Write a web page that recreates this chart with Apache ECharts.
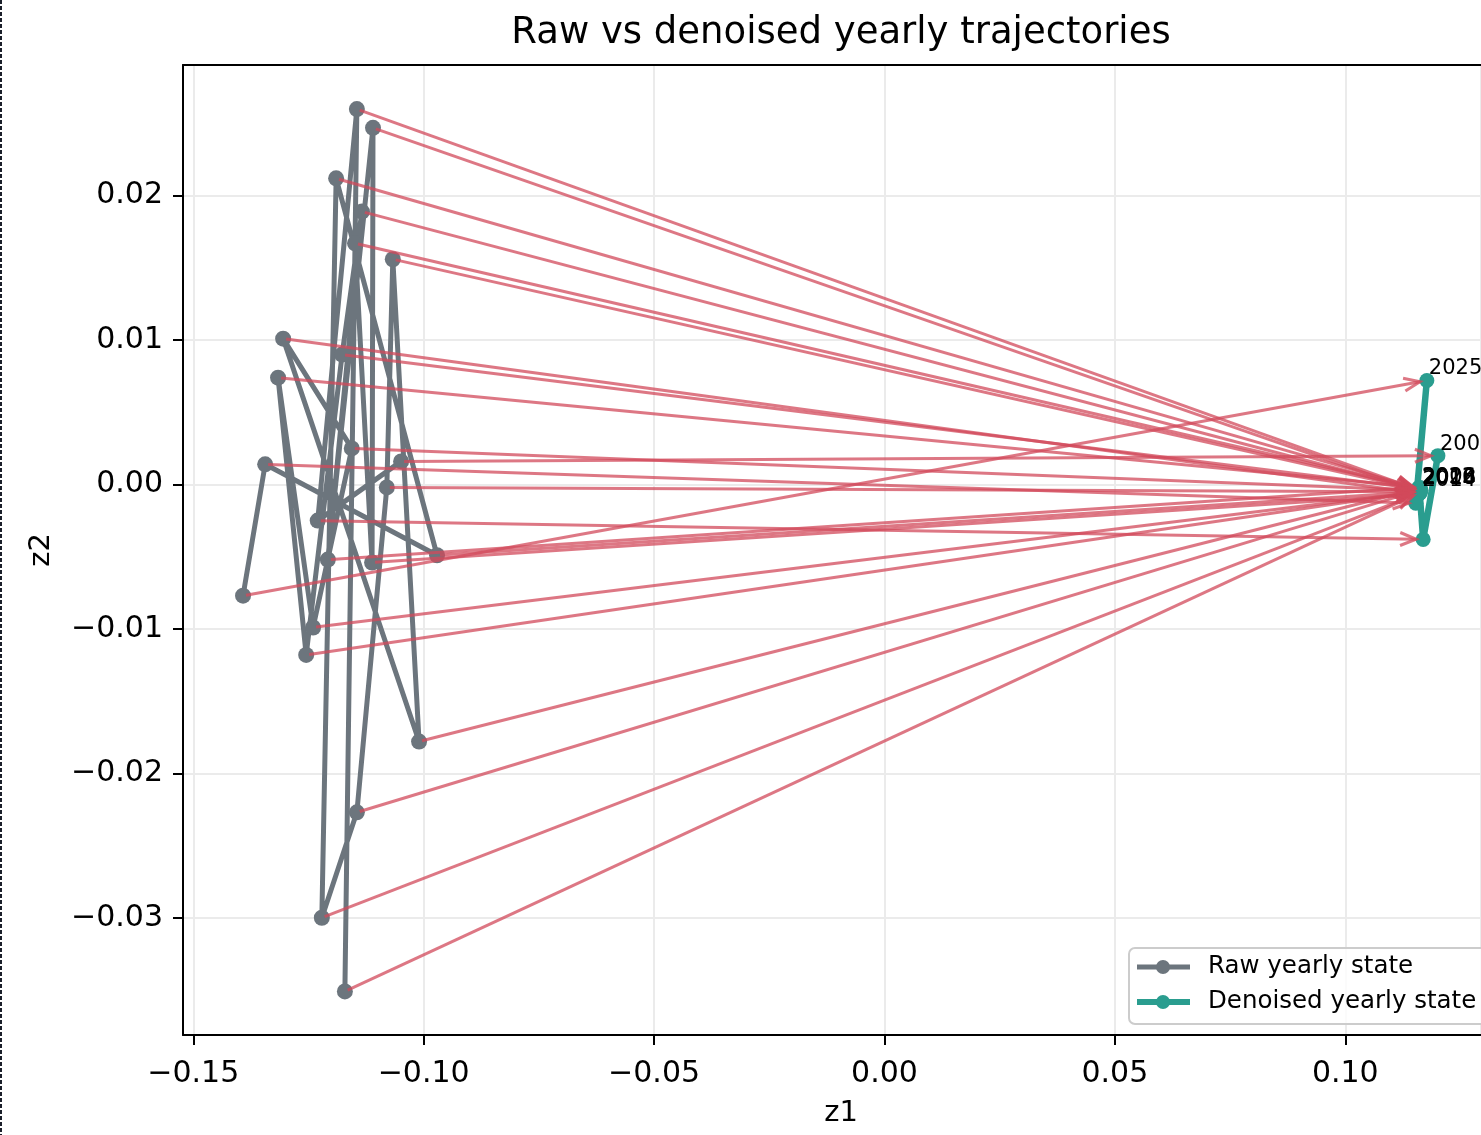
<!DOCTYPE html>
<html>
<head>
<meta charset="utf-8">
<title>Raw vs denoised yearly trajectories</title>
<script src="https://cdn.jsdelivr.net/npm/echarts@6/dist/echarts.min.js"></script>
<style>
  html, body { margin: 0; padding: 0; background: #fff; }
  #chart { width: 1481px; height: 1135px; }
</style>
</head>
<body>
<div id="chart"></div>
<script>
// years of the trajectory
const years = [2002, 2003, 2004, 2005, 2006, 2007, 2008, 2009, 2010, 2011, 2012, 2013,
  2014, 2015, 2016, 2017, 2018, 2019, 2020, 2021, 2022, 2023, 2024, 2025];

// raw yearly state (z1, z2)
const rawZ1 = [-0.1049, -0.1230, -0.1145, -0.1171, -0.1149, -0.1112, -0.1110, -0.1208,
  -0.1134, -0.1177, -0.1255, -0.1316, -0.1240, -0.1156, -0.1305, -0.1010, -0.1067, -0.1080,
  -0.1145, -0.1221, -0.1190, -0.0971, -0.1344, -0.1392];
const rawZ2 = [0.0016, -0.0025, 0.0260, -0.0351, 0.0167, -0.0054, 0.0247, -0.0052,
  0.0189, 0.0090, -0.0118, 0.0074, -0.0099, 0.0025, 0.0101, -0.0178, 0.0156, -0.0002,
  -0.0227, -0.0300, 0.0212, -0.0049, 0.0014, -0.0077];

// denoised yearly state (z1, z2)
const denZ1 = [0.1201, 0.1169, 0.1161, 0.1159, 0.1163, 0.1158, 0.1160, 0.1160,
  0.1162, 0.1161, 0.1159, 0.1162, 0.1163, 0.1160, 0.1161, 0.1158, 0.1164, 0.1160,
  0.1159, 0.1162, 0.1162, 0.1161, 0.1153, 0.1177];
const denZ2 = [0.0020, -0.0038, -0.0004, -0.0006, -0.0003, -0.0007, -0.0005, -0.0002,
  -0.0004, -0.0003, -0.0005, -0.0002, -0.0005, -0.0004, -0.0006, -0.0003, -0.0004, -0.0005,
  -0.0004, -0.0006, -0.0003, -0.0005, -0.0013, 0.0072];

const labeledYears = [2002, 2006, 2010, 2014, 2018, 2022, 2025];

const FONT = 'DejaVu Sans';
const GRAY = '#6c757d';
const TEAL = '#2a9d8f';
const RED = 'rgba(209, 73, 91, 0.75)';

const rawData = years.map((y, i) => [rawZ1[i], rawZ2[i]]);
const denData = years.map((y, i) => [denZ1[i], denZ2[i]]);
const arrowData = years.map((y, i) => [rawZ1[i], rawZ2[i], denZ1[i], denZ2[i]]);
const labelData = years
  .map((y, i) => [denZ1[i], denZ2[i], String(y)])
  .filter(d => labeledYears.includes(Number(d[2])));

const fmt = v => (v < 0 ? '\u2212' : '') + Math.abs(v).toFixed(2);

// arrow from raw point to denoised point, open "->" head
function renderArrow(params, api) {
  const s = api.coord([api.value(0), api.value(1)]);
  const e = api.coord([api.value(2), api.value(3)]);
  const dx = e[0] - s[0], dy = e[1] - s[1];
  const len = Math.sqrt(dx * dx + dy * dy) || 1;
  const ux = dx / len, uy = dy / len;
  const start = [s[0] + ux * 3, s[1] + uy * 3];
  const tip = [e[0] - ux * 7, e[1] - uy * 7];
  const hl = 16, hw = 6.5;
  const back = [tip[0] - ux * hl, tip[1] - uy * hl];
  const left = [back[0] - uy * hw, back[1] + ux * hw];
  const right = [back[0] + uy * hw, back[1] - ux * hw];
  const style = { stroke: RED, lineWidth: 3, fill: null };
  return {
    type: 'group',
    children: [
      { type: 'polyline', shape: { points: [start, tip] }, style: style },
      { type: 'polyline', shape: { points: [left, tip, right] }, style: style }
    ]
  };
}

// year text next to the denoised point
function renderYear(params, api) {
  const p = api.coord([api.value(0), api.value(1)]);
  return {
    type: 'text', x: p[0] + 2, y: p[1] - 1,
    style: { text: labelData[params.dataIndex][2], font: '21px "DejaVu Sans"', fill: '#000', textVerticalAlign: 'bottom' }
  };
}

// legend drawn by hand (box runs past the right edge like the original)
function legendRow(y, color, lw, text) {
  return [
    { type: 'line', shape: { x1: 1137, y1: y, x2: 1190, y2: y }, style: { stroke: color, lineWidth: lw }, z: 101 },
    { type: 'circle', shape: { cx: 1163, cy: y, r: 7 }, style: { fill: color }, z: 102 },
    { type: 'text', x: 1208, y: y, style: { text: text, font: '24.5px "DejaVu Sans"', fill: '#000', textVerticalAlign: 'middle' }, z: 102 }
  ];
}

const chart = echarts.init(document.getElementById('chart'));

const option = {
  animation: false,
  backgroundColor: '#ffffff',
  textStyle: { fontFamily: FONT },
  graphic: [
    {
      type: 'text', x: 841, y: 33,
      style: { text: 'Raw vs denoised yearly trajectories', font: '37px "DejaVu Sans"', fill: '#000', textAlign: 'center', textVerticalAlign: 'middle' }
    },
    {
      type: 'text', x: 841, y: 1113,
      style: { text: 'z1', font: '29px "DejaVu Sans"', fill: '#000', textAlign: 'center', textVerticalAlign: 'middle' }
    },
    {
      type: 'line', shape: { x1: 1, y1: 0, x2: 1, y2: 1135 },
      style: { stroke: '#1b1f2a', lineWidth: 2, lineDash: [4, 2] }
    },
    {
      type: 'rect', shape: { x: 1129, y: 948, width: 380, height: 76, r: 6 },
      style: { fill: 'rgba(255,255,255,0.8)', stroke: '#cccccc', lineWidth: 2 }, z: 100
    },
    ...legendRow(967, GRAY, 5, 'Raw yearly state'),
    ...legendRow(1002, TEAL, 6, 'Denoised yearly state')
  ],
  grid: { left: 183, top: 65, right: 0, height: 970 },
  xAxis: [
    {
      type: 'value', min: -0.15223, max: 0.12945,
      axisLine: { show: true, onZero: false, lineStyle: { color: '#000', width: 2 } },
      axisTick: { show: true, length: 10, lineStyle: { color: '#000', width: 2 } },
      axisLabel: { fontSize: 30, fontFamily: FONT, color: '#000', margin: 24, formatter: fmt, showMinLabel: false, showMaxLabel: false },
      splitLine: { show: true, lineStyle: { color: '#ebebeb', width: 2 } }
    },
    {
      type: 'value', position: 'top', min: -0.15223, max: 0.12945,
      axisLine: { show: true, onZero: false, lineStyle: { color: '#000', width: 2 } },
      axisTick: { show: false }, axisLabel: { show: false }, splitLine: { show: false }
    }
  ],
  yAxis: {
    type: 'value', min: -0.03812, max: 0.02905,
    name: 'z2', nameLocation: 'middle', nameGap: 127, nameRotate: 90,
    nameTextStyle: { fontSize: 29, fontFamily: FONT, color: '#000' },
    axisLine: { show: true, onZero: false, lineStyle: { color: '#000', width: 2 } },
    axisTick: { show: true, length: 10, lineStyle: { color: '#000', width: 2 } },
    axisLabel: { fontSize: 30, fontFamily: FONT, color: '#000', margin: 20, formatter: fmt, showMinLabel: false, showMaxLabel: false },
    splitLine: { show: true, lineStyle: { color: '#ebebeb', width: 2 } }
  },
  series: [
    {
      name: 'Raw yearly state', type: 'line', data: rawData, z: 2,
      symbol: 'circle', symbolSize: 16, showAllSymbol: true,
      lineStyle: { color: GRAY, width: 5 }, itemStyle: { color: GRAY }
    },
    {
      name: 'Denoised yearly state', type: 'line', data: denData, z: 3,
      symbol: 'circle', symbolSize: 15, showAllSymbol: true,
      lineStyle: { color: TEAL, width: 6.5 }, itemStyle: { color: TEAL }
    },
    {
      name: 'arrows', type: 'custom', data: arrowData, z: 4,
      renderItem: renderArrow, encode: { x: [0, 2], y: [1, 3] }, clip: false, silent: true
    },
    {
      name: 'labels', type: 'custom', data: labelData.map(d => [d[0], d[1]]), z: 5,
      renderItem: renderYear, encode: { x: 0, y: 1 }, clip: false, silent: true
    }
  ]
};

chart.setOption(option);
window.addEventListener('resize', () => chart.resize());
</script>
</body>
</html>
